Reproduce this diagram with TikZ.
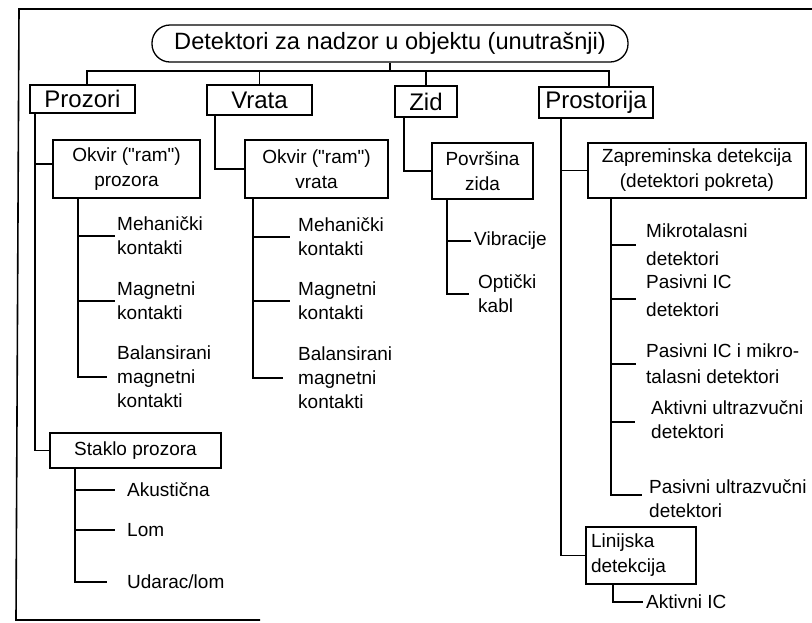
\documentclass[tikz,border=0pt]{standalone}
\usepackage{fontspec}
\setmainfont{Liberation Sans}[Ligatures=TeXOff]
\begin{document}
\begin{tikzpicture}[x=1pt,y=-1pt,
  conn/.style={line width=1.3pt},
  frame/.style={line width=1.6pt},
  titlebox/.style={draw, line width=1.3pt, inner sep=0pt, rounded corners=18pt,
    minimum width=476pt, minimum height=37pt, font=\fontsize{23.6}{27}\selectfont},
  topbox/.style={draw, line width=1.3pt, inner sep=0pt, font=\fontsize{24}{28}\selectfont},
  midbox/.style={draw, line width=1.3pt, inner sep=0pt, align=center, font=\fontsize{19}{25}\selectfont},
  leaf/.style={anchor=west, inner sep=0pt, align=left, font=\fontsize{19}{24}\selectfont},
]
\useasboundingbox (0,0) rectangle (812,622);
% frame
\draw[frame] (812,9) -- (19,9) -- (16,620) -- (260,620);

% title and level 1
\node[titlebox] (title) at (390,43.5) {Detektori za nadzor u objektu (unutrašnji)};
\node[topbox, minimum width=105pt, minimum height=28pt] (prozori) at (82.5,99) {Prozori};
\node[topbox, minimum width=105pt, minimum height=30pt] (vrata) at (259.5,100) {Vrata};
\node[topbox, minimum width=62pt, minimum height=31pt] (zid) at (426,101.5) {Zid};
\node[topbox, minimum width=114pt, minimum height=31pt] (prostorija) at (596,102.5) {Prostorija};

\coordinate (bus) at (0,71);
\coordinate (pdrop) at ([xshift=13pt]prostorija.north);
\coordinate (zdrop) at ([xshift=4.5pt]prozori.north);
\draw[conn] (title.south) -- (title.south |- bus);
\draw[conn] (zdrop) |- (bus -| pdrop) -- (pdrop);
\draw[conn] (vrata.north) -- (vrata.north |- bus);
\draw[conn] (zid.north) -- (zid.north |- bus);

% level 2
\node[midbox, minimum width=147pt, minimum height=58pt] (okvirp) at (126.5,169) {Okvir ("ram")\\prozora};
\node[midbox, minimum width=171pt, minimum height=35pt] (staklo) at (135.5,450.5) {Staklo prozora};
\node[midbox, minimum width=143pt, minimum height=58pt] (okvirv) at (316.5,169) {Okvir ("ram")\\vrata};
\node[midbox, minimum width=101pt, minimum height=56pt] (povrsina) at (482.5,171) {Površina\\zida};
\node[midbox, minimum width=218pt, minimum height=55pt] (zapr) at (697,170.5) {Zapreminska detekcija\\(detektori pokreta)};
\node[midbox, align=left, text width=100pt, inner xsep=5pt, minimum height=57pt] (linijska) at (641,555.5) {Linijska\\detekcija};

% level-1 trunks
\coordinate (tp) at (35,0);
\draw[conn] (prozori.south -| tp) |- (staklo.west);
\draw[conn] ([yshift=5pt]okvirp.west) -- ([yshift=5pt]okvirp.west -| tp);
\coordinate (tv) at (215,0);
\draw[conn] (vrata.south -| tv) |- (okvirv.west);
\coordinate (tz) at (404,0);
\draw[conn] (zid.south -| tz) |- (povrsina.west);
\coordinate (tr) at (561,0);
\draw[conn] (prostorija.south -| tr) |- (linijska.west);
\draw[conn] (zapr.west) -- (zapr.west -| tr);

% leaves: prozor frame
\node[leaf] (meh1) at (117,236) {Mehanički\\kontakti};
\node[leaf] (mag1) at (117,301) {Magnetni\\kontakti};
\node[leaf] (bal1) at (117,377) {Balansirani\\magnetni\\kontakti};
\coordinate (sp) at (78,0);
\draw[conn] (okvirp.south -| sp) |- ([xshift=-10pt]bal1.west);
\draw[conn] (meh1.west -| sp) -- ([xshift=-2pt]meh1.west);
\draw[conn] (mag1.west -| sp) -- ([xshift=-2pt]mag1.west);

% leaves: door frame
\node[leaf] (meh2) at (298,237) {Mehanički\\kontakti};
\node[leaf] (mag2) at (298,301) {Magnetni\\kontakti};
\node[leaf] (bal2) at (298,378) {Balansirani\\magnetni\\kontakti};
\coordinate (sv) at (253,0);
\draw[conn] (okvirv.south -| sv) |- ([xshift=-15pt]bal2.west);
\draw[conn] (meh2.west -| sv) -- ([xshift=-8pt]meh2.west);
\draw[conn] (mag2.west -| sv) -- ([xshift=-8pt]mag2.west);

% leaves: wall
\node[leaf] (vib) at (474,241) {Vibracije};
\node[leaf] (opt) at (478,294) {Optički\\kabl};
\coordinate (sz) at (447,0);
\draw[conn] (povrsina.south -| sz) |- ([xshift=-9pt]opt.west);
\draw[conn] (vib.west -| sz) -- ([xshift=-3pt]vib.west);

% leaves: volume detection
\node[leaf, font=\fontsize{19}{28}\selectfont] (mik) at (646,245) {Mikrotalasni\\detektori};
\node[leaf, font=\fontsize{19}{28}\selectfont] (pic) at (646,296) {Pasivni IC\\detektori};
\node[leaf, font=\fontsize{19}{26}\selectfont] (picm) at (646,364) {Pasivni IC i mikro-\\talasni detektori};
\node[leaf] (aus) at (651,420) {Aktivni ultrazvučni\\detektori};
\node[leaf] (pus) at (649,499) {Pasivni ultrazvučni\\detektori};
\coordinate (sr) at (611,0);
\coordinate (pusend) at ([xshift=-7pt,yshift=4pt]pus.west);
\draw[conn] (zapr.south -| sr) |- (pusend);
\draw[conn] (mik.west -| sr) -- ([xshift=-10pt]mik.west);
\draw[conn] ([yshift=-3pt]pic.west -| sr) -- ([xshift=-10pt,yshift=-3pt]pic.west);
\draw[conn] (picm.west -| sr) -- ([xshift=-10pt]picm.west);
\draw[conn] ([yshift=-2pt]aus.west -| sr) -- ([xshift=-16pt,yshift=-2pt]aus.west);

% leaves: glass
\node[leaf] (aku) at (127,490) {Akustična};
\node[leaf] (lom) at (127,530) {Lom};
\node[leaf] (uda) at (127,582) {Udarac/lom};
\coordinate (sg) at (75,0);
\draw[conn] (staklo.south -| sg) |- ([xshift=-20pt]uda.west);
\draw[conn] (aku.west -| sg) -- ([xshift=-12pt]aku.west);
\draw[conn] (lom.west -| sg) -- ([xshift=-12pt]lom.west);

% leaves: line detection
\node[leaf] (aic) at (646,602) {Aktivni IC};
\coordinate (sl) at (613,0);
\draw[conn] (linijska.south -| sl) |- ([xshift=-3pt]aic.west);
\end{tikzpicture}
\end{document}
